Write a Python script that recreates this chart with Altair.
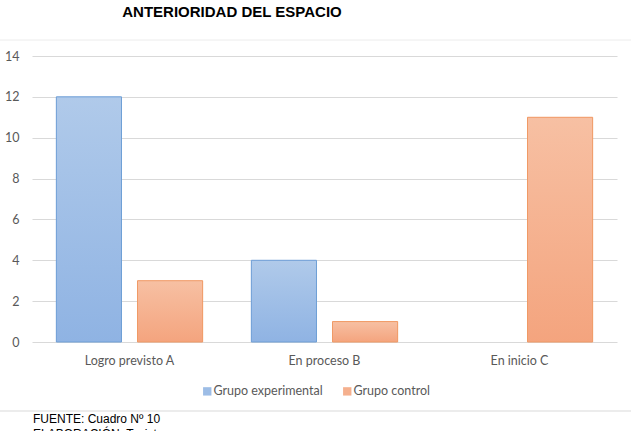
import altair as alt
import pandas as pd

# Chart data
categories = ["Logro previsto A", "En proceso B", "En inicio C"]
groups = ["Grupo experimental", "Grupo control"]
experimental = [12, 4, 0]
control = [3, 1, 11]
y_ticks = [0, 2, 4, 6, 8, 10, 12, 14]

title_text = "ANTERIORIDAD DEL ESPACIO"
source_text = "FUENTE: Cuadro Nº 10"
author_text = "ELABORACIÓN: Tesista"

rows = []
for cat, e, c in zip(categories, experimental, control):
    rows.append({"categoria": cat, "grupo": groups[0], "valor": e})
    rows.append({"categoria": cat, "grupo": groups[1], "valor": c})
df = pd.DataFrame(rows)

W, H = 585, 286
FONT = "Lato"
GRAY = "#595959"

blue_solid = "#9dbde6"
orange_solid = "#f5b08e"

blue_grad = alt.Gradient(
    gradient="linear", x1=0, y1=0, x2=0, y2=1,
    stops=[alt.GradientStop(color="#b0caea", offset=0),
           alt.GradientStop(color="#8fb3e3", offset=1)],
)
orange_grad = alt.Gradient(
    gradient="linear", x1=0, y1=0, x2=0, y2=1,
    stops=[alt.GradientStop(color="#f7c0a3", offset=0),
           alt.GradientStop(color="#f4a47e", offset=1)],
)

x_enc = alt.X(
    "categoria:N", sort=categories, title=None,
    scale=alt.Scale(paddingInner=0, paddingOuter=0),
    axis=alt.Axis(labelAngle=0, ticks=False, domain=False, labelPadding=12,
                  labelFont=FONT, labelFontSize=12.5, labelColor=GRAY),
)
xoff_enc = alt.XOffset(
    "grupo:N", sort=groups,
    scale=alt.Scale(paddingInner=0.1975, paddingOuter=0.3),
)
y_enc = alt.Y(
    "valor:Q", title=None,
    scale=alt.Scale(domain=[0, 14], nice=False),
    axis=alt.Axis(values=y_ticks, ticks=False, domain=False, labelPadding=13,
                  labelFont=FONT, labelFontSize=12.5, labelColor=GRAY,
                  gridColor="#d9d9d9", gridWidth=1),
)

# Solid bars: carry the legend
legend_bars = alt.Chart(df).mark_bar().encode(
    x=x_enc, xOffset=xoff_enc, y=y_enc,
    color=alt.Color(
        "grupo:N", sort=groups, title=None,
        scale=alt.Scale(domain=groups, range=[blue_solid, orange_solid]),
        legend=alt.Legend(
            orient="none", direction="horizontal", legendX=169, legendY=329,
            symbolType="square", symbolSize=70, symbolStrokeWidth=0,
            labelFont=FONT, labelFontSize=12.5, labelColor=GRAY,
            columnPadding=18, labelOffset=0,
        ),
    ),
)

# Gradient bars drawn on top of the solid ones
exp_bars = alt.Chart(df).transform_filter(
    alt.datum.grupo == groups[0]
).transform_filter(alt.datum.valor > 0).mark_bar(
    color=blue_grad, stroke="#6f9fd6", strokeWidth=1
).encode(x=x_enc, xOffset=xoff_enc, y=y_enc)

ctl_bars = alt.Chart(df).transform_filter(
    alt.datum.grupo == groups[1]
).transform_filter(alt.datum.valor > 0).mark_bar(
    color=orange_grad, stroke="#f09a66", strokeWidth=1
).encode(x=x_enc, xOffset=xoff_enc, y=y_enc)

one = pd.DataFrame({"t": [title_text]})

title = alt.Chart(one).mark_text(
    font="Liberation Sans", fontSize=15, fontWeight="bold", color="#000000",
    align="center", baseline="middle",
).encode(text="t:N", x=alt.value(200), y=alt.value(-44))

source = alt.Chart(pd.DataFrame({"t": [source_text]})).mark_text(
    font="Liberation Sans", fontSize=12, color="#000000",
    align="left", baseline="middle",
).encode(text="t:N", x=alt.value(1), y=alt.value(363))

author = alt.Chart(pd.DataFrame({"t": [author_text]})).mark_text(
    font="Liberation Sans", fontSize=12, color="#000000",
    align="left", baseline="middle",
).encode(text="t:N", x=alt.value(1), y=alt.value(378))

frame_top = alt.Chart(one).mark_rule(color="#ececec", strokeWidth=1).encode(
    x=alt.value(-32), x2=alt.value(599), y=alt.value(-16)
)
frame_bottom = alt.Chart(one).mark_rule(color="#d9d9d9", strokeWidth=1).encode(
    x=alt.value(-32), x2=alt.value(599), y=alt.value(355)
)

chart = alt.layer(
    legend_bars, exp_bars, ctl_bars, title, source, author, frame_top, frame_bottom
).properties(
    width=W, height=H,
    autosize=alt.AutoSizeParams(type="none"),
    padding={"left": 32, "top": 56, "right": 14, "bottom": 89},
    background="white",
).configure_view(stroke=None)

chart.save("out.html", embed_options={"renderer": "svg", "actions": False})
